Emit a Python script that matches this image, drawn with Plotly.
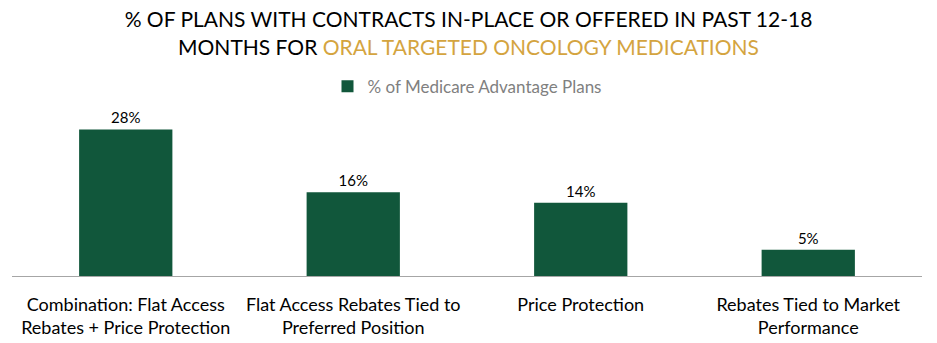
import plotly.graph_objects as go

categories = ["Combination: Flat Access<br>Rebates + Price Protection",
              "Flat Access Rebates Tied to<br>Preferred Position",
              "Price Protection",
              "Rebates Tied to Market<br>Performance"]
values = [28, 16, 14, 5]
labels = ["28%", "16%", "14%", "5%"]
series_name = "% of Medicare Advantage Plans"

FONT = "Lato, 'Open Sans', sans-serif"
fig = go.Figure()
fig.add_trace(go.Bar(
    x=categories, y=values, name=series_name,
    marker=dict(color="#11573B", line=dict(width=0)),
    text=labels, textposition="outside", cliponaxis=False,
    textfont=dict(size=15, color="#000000", family=FONT),
))
fig.update_layout(
    width=937, height=343,
    margin=dict(l=12, r=15, t=118.5, b=67),
    paper_bgcolor="white", plot_bgcolor="white",
    bargap=0.59,
    showlegend=True,
    legend=dict(orientation="h", x=0.5, xanchor="center", y=1.206, yanchor="middle",
                font=dict(size=17, color="#808080", family=FONT)),
    title=dict(
        text="% OF PLANS WITH CONTRACTS IN-PLACE OR OFFERED IN PAST 12-18<br>MONTHS FOR <span style='color:#D4A43F'>ORAL TARGETED ONCOLOGY MEDICATIONS</span>",
        x=0.5, xanchor="center", y=0.92, yanchor="middle",
        font=dict(size=21, color="#000000", family=FONT),
    ),
    font=dict(family=FONT),
)
fig.update_xaxes(showline=True, linecolor="#A6A6A6", linewidth=1, ticks="",
                 ticklabelstandoff=12, automargin=False,
                 tickfont=dict(size=18, color="#000000", family=FONT))
fig.update_yaxes(range=[0, 30], visible=False, showgrid=False, automargin=False)
fig.write_html("out.html")
